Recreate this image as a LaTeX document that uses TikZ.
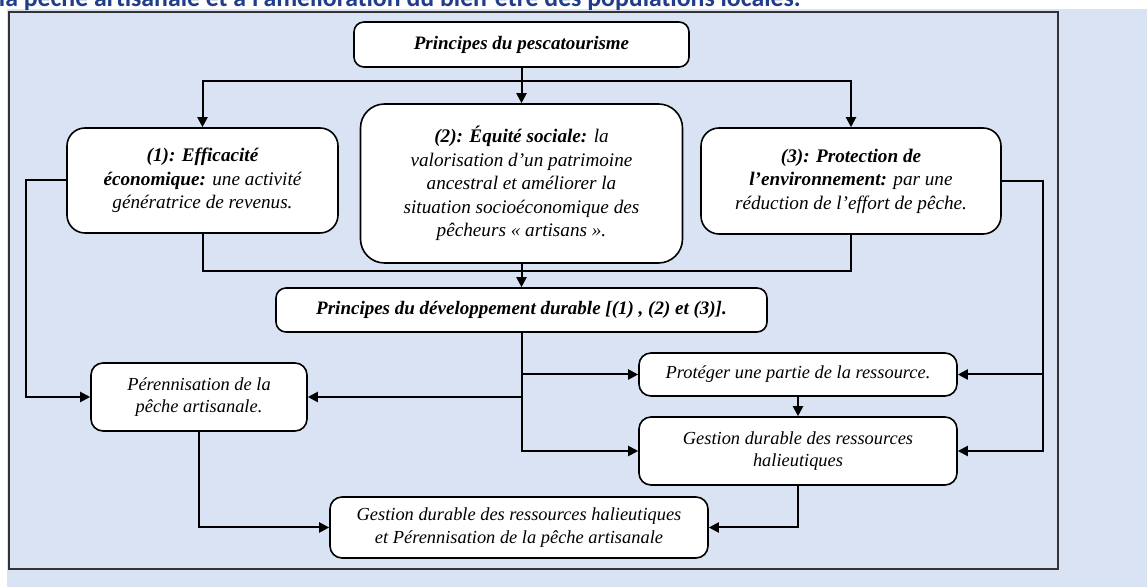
\documentclass[tikz,border=0pt]{standalone}
\usepackage{fontspec}
\setmainfont{Liberation Serif}
\newfontfamily\capfont{Carlito}
\usepackage{tikz}
\usetikzlibrary{arrows.meta,positioning,calc}
\definecolor{bgblue}{HTML}{DAE3F3}
\definecolor{capblue}{HTML}{203D8C}
\newcommand{\hd}[1]{\textbf{#1}}

\begin{document}
\begin{tikzpicture}[x=0.5pt, y=-0.5pt,
  box/.style={draw, line width=0.8pt, fill=white, rounded corners=#1,
    align=center, inner sep=2pt, font=\fontsize{9.6}{11.7}\selectfont\itshape},
  box/.default=6pt,
  small/.style={font=\fontsize{9.2}{11.3}\selectfont\itshape},
  head/.style={font=\fontsize{9.5}{11.7}\selectfont\bfseries\itshape},
  arrow/.style={-{Triangle[length=5pt,width=5pt]}, line width=1pt},
  line/.style={line width=1pt}
]
  \useasboundingbox (0,0) rectangle (1147,587);
  \clip (0,0) rectangle (1147,587);

  % Background and frame
  \fill[white] (0,0) rectangle (1147,587);
  \fill[bgblue] (7,9) rectangle (1147,587);
  \draw[black!80, line width=0.75pt] (9,12) rectangle (1058,569);
  \node[anchor=base east, inner sep=0pt, text=capblue,
    font=\capfont\bfseries\fontsize{12.9}{15}\selectfont] (caption) at (801,6.7)
    {la pêche artisanale et à l’amélioration du bien-être des populations locales.};

  % Principles
  \node[box=5pt, head, minimum width=167.5pt, minimum height=22.5pt] (pesca) at (521.5,44.5)
    {Principes du pescatourisme};
  \node[box=9pt, minimum width=135.5pt, minimum height=52.5pt] (eco) at (202.5,180.5)
    {\hd{(1): Efficacité}\\\hd{économique:} une activité\\génératrice de revenus.};
  \node[box=12pt, minimum width=161pt, minimum height=79.5pt] (soc) at (521.5,183.5)
    {\hd{(2): Équité sociale:} la\\valorisation d’un patrimoine\\ancestral et améliorer la\\situation socioéconomique des\\pêcheurs «~artisans~».};
  \node[box=9pt, minimum width=150pt, minimum height=53pt] (env) at (851,181)
    {\hd{(3): Protection de}\\\hd{l’environnement:} par une\\réduction de l’effort de pêche.};
  \node[box=5pt, head, minimum width=245.5pt, minimum height=22pt] (durable) at (521.5,310)
    {Principes du développement durable [(1) , (2) et (3)].};

  % Outcomes
  \node[box, small, minimum width=108pt, minimum height=34pt] (peren) at (199,397)
    {Pérennisation de la\\pêche artisanale.};
  \node[box, small, minimum width=159pt, minimum height=21.5pt] (prot) at (798,374.5)
    {Protéger une partie de la ressource.};
  \node[box, small, minimum width=159pt, minimum height=34pt] (gest) at (798,451)
    {Gestion durable des ressources\\halieutiques};
  \node[box, small, minimum width=189pt, minimum height=30.5pt] (final) at (519,527.5)
    {Gestion durable des ressources halieutiques\\et Pérennisation de la pêche artisanale};

  % Bus points
  \coordinate (split) at (521.5,81);
  \coordinate (join) at (521.5,271);
  \coordinate (lbus) at (26,397);
  \coordinate (rbus) at (1043,451);

  % Top connectors
  \draw[arrow] (pesca) -- (soc);
  \draw[arrow] (split) -| (eco.north);
  \draw[arrow] (split) -| (env.north);
  \draw[line] (eco.south) |- (join) -| (env.south);
  \draw[arrow] (soc) -- (durable);

  % Side connectors
  \draw[arrow] (eco.west) -| (lbus) -- (peren.west);
  \draw[arrow] (env.east) -| (rbus) -- (gest.east);
  \draw[arrow] (prot.east -| rbus) -- (prot.east);

  % Central connectors
  \draw[arrow] (durable.south) |- (gest.west);
  \draw[arrow] (durable.south |- prot.west) -- (prot.west);
  \draw[arrow] (durable.south |- peren.east) -- (peren.east);
  \draw[arrow] (prot) -- (gest);
  \draw[arrow] (peren.south) |- (final.west);
  \draw[arrow] (gest.south) |- (final.east);
\end{tikzpicture}
\end{document}
